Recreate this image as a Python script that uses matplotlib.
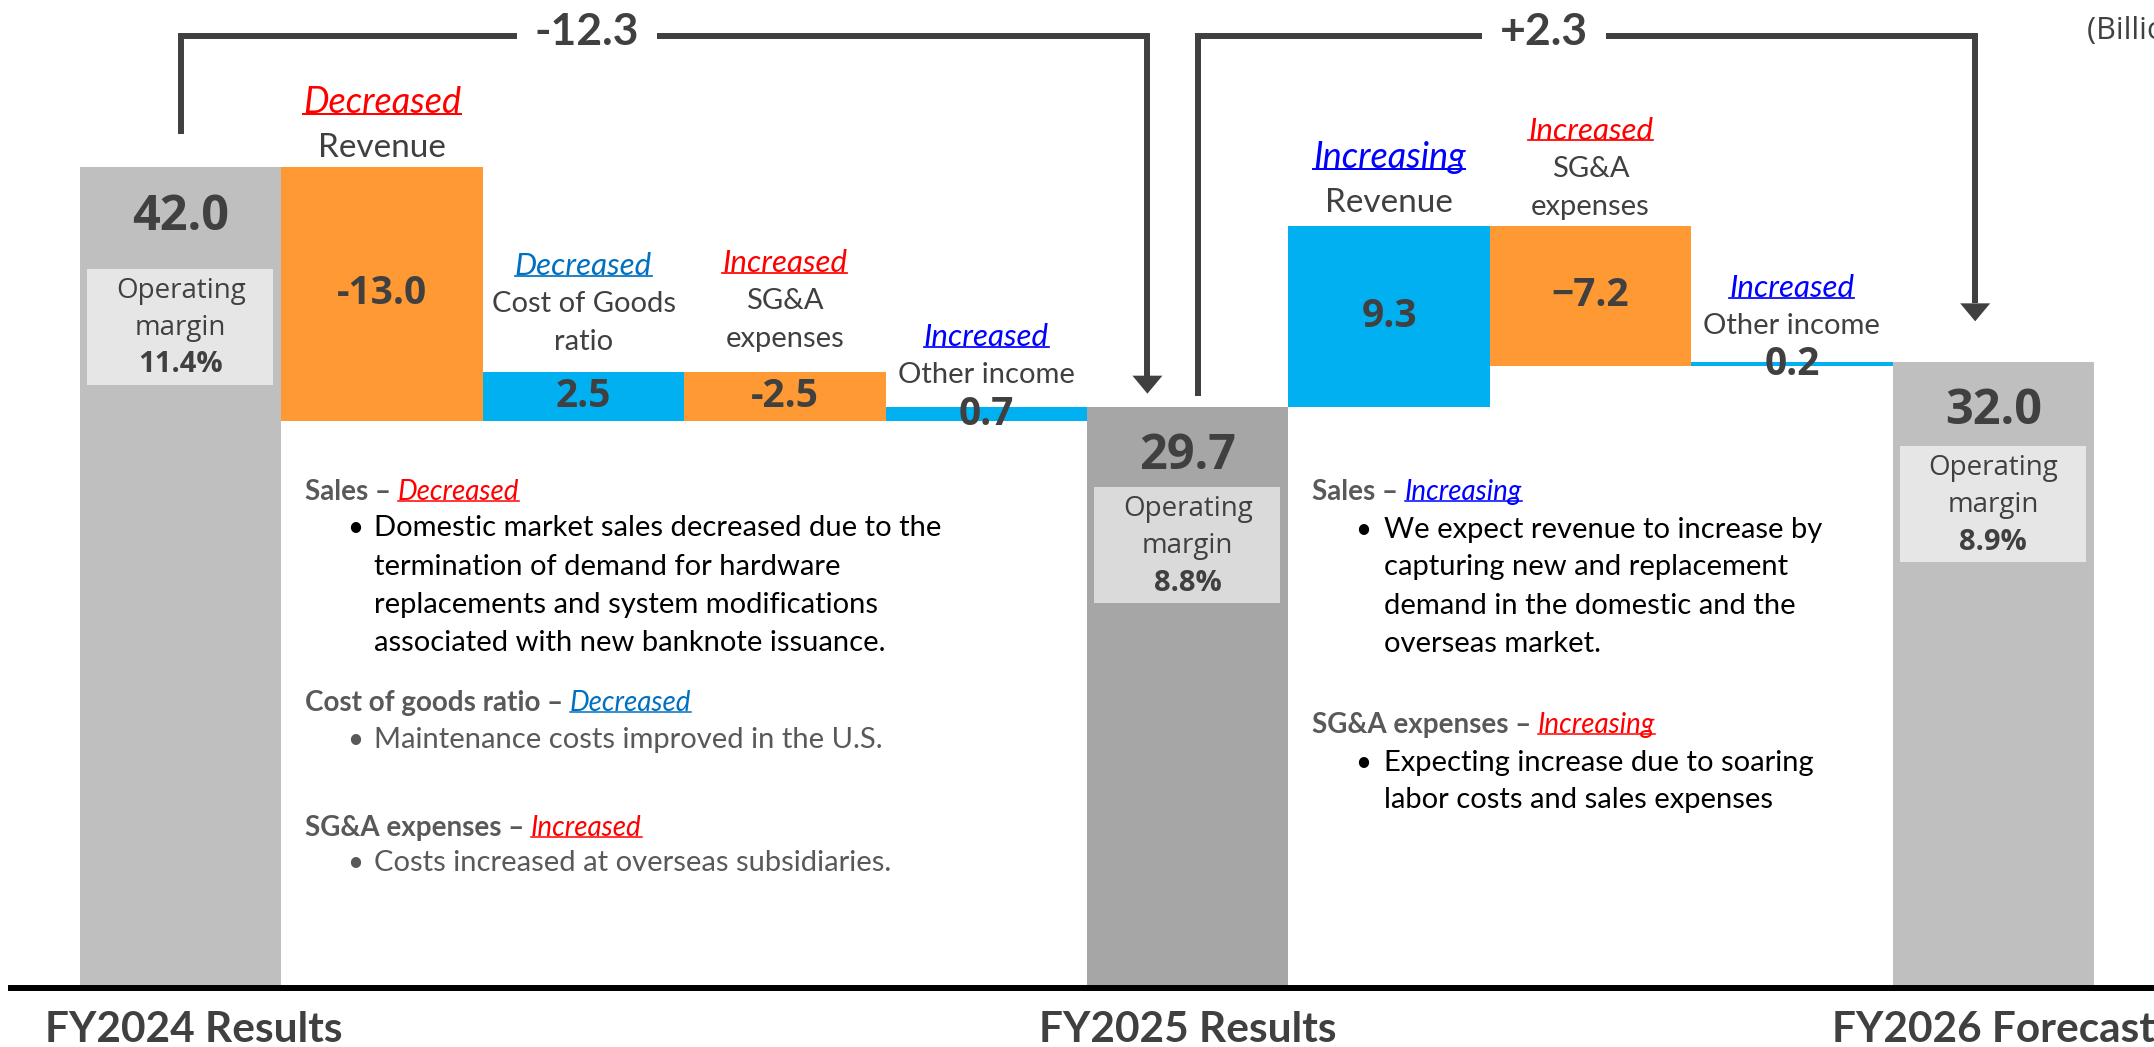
import matplotlib
matplotlib.use("Agg")
import matplotlib.pyplot as plt
from matplotlib.patches import Rectangle, Polygon
from matplotlib.lines import Line2D

# ---------------- data ----------------
total_labels = ["FY2024 Results", "FY2025 Results", "FY2026 Forecast"]
total_values = [42.0, 29.7, 32.0]
margin_labels = ["11.4%", "8.8%", "8.9%"]

steps1_names = ["Revenue", "Cost of Goods\nratio", "SG&A\nexpenses", "Other income"]
steps1_values = [-13.0, 2.5, -2.5, 0.7]
steps1_status = ["Decreased", "Decreased", "Increased", "Increased"]
steps1_status_colors = ["#FF0000", "#0070C0", "#FF0000", "#0000FF"]

steps2_names = ["Revenue", "SG&A\nexpenses", "Other income"]
steps2_values = [9.3, -7.2, 0.2]
steps2_status = ["Increasing", "Increased", "Increased"]
steps2_status_colors = ["#0000FF", "#FF0000", "#0000FF"]

unit_label = "(Billions of yen)"

left_notes = [
    ("Sales \u2013 ", "Decreased", "#FF0000",
     ["Domestic market sales decreased due to the",
      "termination of demand for hardware",
      "replacements and system modifications",
      "associated with new banknote issuance."], "#000000"),
    ("Cost of goods ratio \u2013 ", "Decreased", "#0070C0",
     ["Maintenance costs improved in the U.S."], "#595959"),
    ("SG&A expenses \u2013 ", "Increased", "#FF0000",
     ["Costs increased at overseas subsidiaries."], "#595959"),
]
right_notes = [
    ("Sales \u2013 ", "Increasing", "#0000FF",
     ["We expect revenue to increase by",
      "capturing new and replacement",
      "demand in the domestic and the",
      "overseas market."], "#000000"),
    ("SG&A expenses \u2013 ", "Increasing", "#FF0000",
     ["Expecting increase due to soaring",
      "labor costs and sales expenses"], "#000000"),
]

# ---------------- style ----------------
W, H, DPI = 2154, 1047, 100
FONT = ["Lato", "DejaVu Sans"]
NUMFONT = ["Open Sans", "DejaVu Sans"]
plt.rcParams["font.family"] = FONT
DARK = "#404040"
POS = "#00B0F0"
NEG = "#FF9933"
TOTAL_COLORS = ["#BFBFBF", "#A6A6A6", "#BFBFBF"]
BOX_COLORS = ["#E6E6E6", "#DADADA", "#E6E6E6"]

fig = plt.figure(figsize=(W / DPI, H / DPI), dpi=DPI)
ax = fig.add_axes([0, 0, 1, 1])
ax.axis("off")
XL = (-0.5 - 80 / 201.4, -0.5 + (W - 80) / 201.4)
YL = ((988 - H) / 19.55, 988 / 19.55)
ax.set_xlim(*XL)
ax.set_ylim(*YL)
SX = W / (XL[1] - XL[0])   # px per x unit
SY = H / (YL[1] - YL[0])   # px per y unit

underline_texts = []


def note(x, y, s, dy, dx=0, **kw):
    return ax.annotate(s, xy=(x, y), xytext=(dx, dy), textcoords="offset pixels",
                       ha="center", va="center", **kw)


# ---------------- build waterfall ----------------
sequence = [("total", 0)]
sequence += [("step1", i) for i in range(len(steps1_values))]
sequence += [("total", 1)]
sequence += [("step2", i) for i in range(len(steps2_values))]
sequence += [("total", 2)]

label_base1 = [19, 30, 33, 32]
label_base2 = [23, 19, 36]
box_offsets = [102, 80, 84]
fy_label_dx = [13, 0, 0]

running = total_values[0]
for xpos, (kind, i) in enumerate(sequence):
    if kind == "total":
        v = total_values[i]
        running = v
        ax.bar(xpos, v, bottom=0, width=1.0, color=TOTAL_COLORS[i], linewidth=0, zorder=2)
        value_off = 51 if i == 0 else 49
        note(xpos, v, f"{v:.1f}", -value_off, fontsize=35, fontweight="bold", color=DARK,
             family=NUMFONT, zorder=5)
        bo = box_offsets[i]
        ax.add_patch(Rectangle((xpos - 0.5 + 7 / SX, v - (bo + 116) / SY), 186 / SX, 116 / SY,
                               facecolor=BOX_COLORS[i], edgecolor="none", zorder=3))
        note(xpos, v, "Operating", -(bo + 22), fontsize=20, color=DARK, family=NUMFONT, zorder=5)
        note(xpos, v, "margin", -(bo + 59), fontsize=20, color=DARK, family=NUMFONT, zorder=5)
        note(xpos, v, margin_labels[i], -(bo + 96), fontsize=21, fontweight="bold", color=DARK,
             family=NUMFONT, zorder=5)
        note(xpos, 0, total_labels[i], -42, dx=fy_label_dx[i], fontsize=30.5,
             fontweight="bold", color=DARK)
    else:
        if kind == "step1":
            vals, names, st, stc, base = steps1_values, steps1_names, steps1_status, steps1_status_colors, label_base1
        else:
            vals, names, st, stc, base = steps2_values, steps2_names, steps2_status, steps2_status_colors, label_base2
        v = vals[i]
        start, end = running, running + v
        running = end
        lo, hi = min(start, end), max(start, end)
        ax.bar(xpos, hi - lo, bottom=lo, width=1.0, color=POS if v > 0 else NEG, linewidth=0, zorder=2)
        txt = f"{v:.1f}"
        if kind == "step2":
            txt = txt.replace("-", "\u2212")
        ax.text(xpos, (lo + hi) / 2, txt, ha="center", va="center", fontsize=28,
                fontweight="bold", color=DARK, family=NUMFONT, zorder=5)
        lines = names[i].split("\n")
        big = names[i] == "Revenue"
        b = base[i]
        for k, ln in enumerate(reversed(lines)):
            note(xpos, hi, ln, b + 38 * k, fontsize=24 if big else 21, color=DARK, zorder=5)
        t = note(xpos, hi, st[i], b + 38 * (len(lines) - 1) + (45 if big else 38),
                 fontsize=26 if big else 22.5, fontstyle="italic", color=stc[i], zorder=5)
        underline_texts.append(t)

# baseline
ax.axhline(0, xmin=11 / W, xmax=1, color="black", lw=4.3, zorder=4)

# ---------------- brackets ----------------
def bracket(x0, y0, x1, y_tip, ytop, label, frac):
    head_w, head_h = 30 / SX, 18 / SY
    ax.plot([x0, x0, x1, x1], [y0, ytop, ytop, y_tip + head_h], color=DARK, lw=4.3,
            solid_joinstyle="miter", solid_capstyle="butt", zorder=4)
    ax.add_patch(Polygon([(x1 - head_w / 2, y_tip + head_h), (x1 + head_w / 2, y_tip + head_h),
                          (x1, y_tip)], closed=True, facecolor=DARK, edgecolor="none", zorder=4))
    ax.annotate(label, xy=(x0 + frac * (x1 - x0), ytop), xytext=(0, 4), textcoords="offset pixels",
                ha="center", va="center", fontsize=32, fontweight="bold", color=DARK, zorder=6,
                bbox=dict(boxstyle="square,pad=0.4", facecolor="white", edgecolor="none"))

i_fy25 = 1 + len(steps1_values)
i_fy26 = i_fy25 + 1 + len(steps2_values)
d1 = total_values[1] - total_values[0]
d2 = total_values[2] - total_values[1]
bracket(0, total_values[0] + 1.7, i_fy25 - 0.2, total_values[1] + 0.7, 48.7, f"{d1:+.1f}", 0.42)
bracket(i_fy25 + 0.05, total_values[1] + 0.6, i_fy26 - 0.09, total_values[2] + 2.1, 48.7,
        f"{d2:+.1f}", 0.445)

fig.text(2087 / W, 1 - 30 / H, unit_label, ha="left", va="center", fontsize=22, color=DARK,
         family=NUMFONT)

# ---------------- note blocks ----------------
def block(notes, x_head, x_bullet, x_text, ys):
    j = 0
    for head, status, scol, lines, lcol in notes:
        yh = ys[j]; j += 1
        t1 = fig.text(x_head / W, 1 - yh / H, head, ha="left", va="center", fontsize=20,
                      fontweight="bold", color="#595959")
        t2 = ax.annotate(status, xy=(1, 0), xycoords=t1, ha="left", va="bottom",
                         fontsize=20, fontstyle="italic", color=scol)
        underline_texts.append(t2)
        for k, ln in enumerate(lines):
            yl = ys[j]; j += 1
            if k == 0:
                fig.text(x_bullet / W, 1 - yl / H, "\u2022", ha="left", va="center",
                         fontsize=20, color=lcol)
            fig.text(x_text / W, 1 - yl / H, ln, ha="left", va="center", fontsize=21, color=lcol)


block(left_notes, 305, 347, 374, [492, 528, 567, 605, 643, 703, 740, 828, 863])
block(right_notes, 1312, 1355, 1384, [492, 530, 567, 606, 644, 725, 763, 800])

# ---------------- underlines ----------------
fig.canvas.draw()
renderer = fig.canvas.get_renderer()
for t in underline_texts:
    bb = t.get_window_extent(renderer)
    fs = t.get_fontsize() * DPI / 72
    y = bb.y0 + 0.14 * fs
    fig.add_artist(Line2D([bb.x0 / W, bb.x1 / W], [y / H, y / H], transform=fig.transFigure,
                          color=t.get_color(), lw=max(1.0, fs * 0.055 * 0.72), zorder=6))

fig.savefig("out.png", dpi=DPI, facecolor="white")
